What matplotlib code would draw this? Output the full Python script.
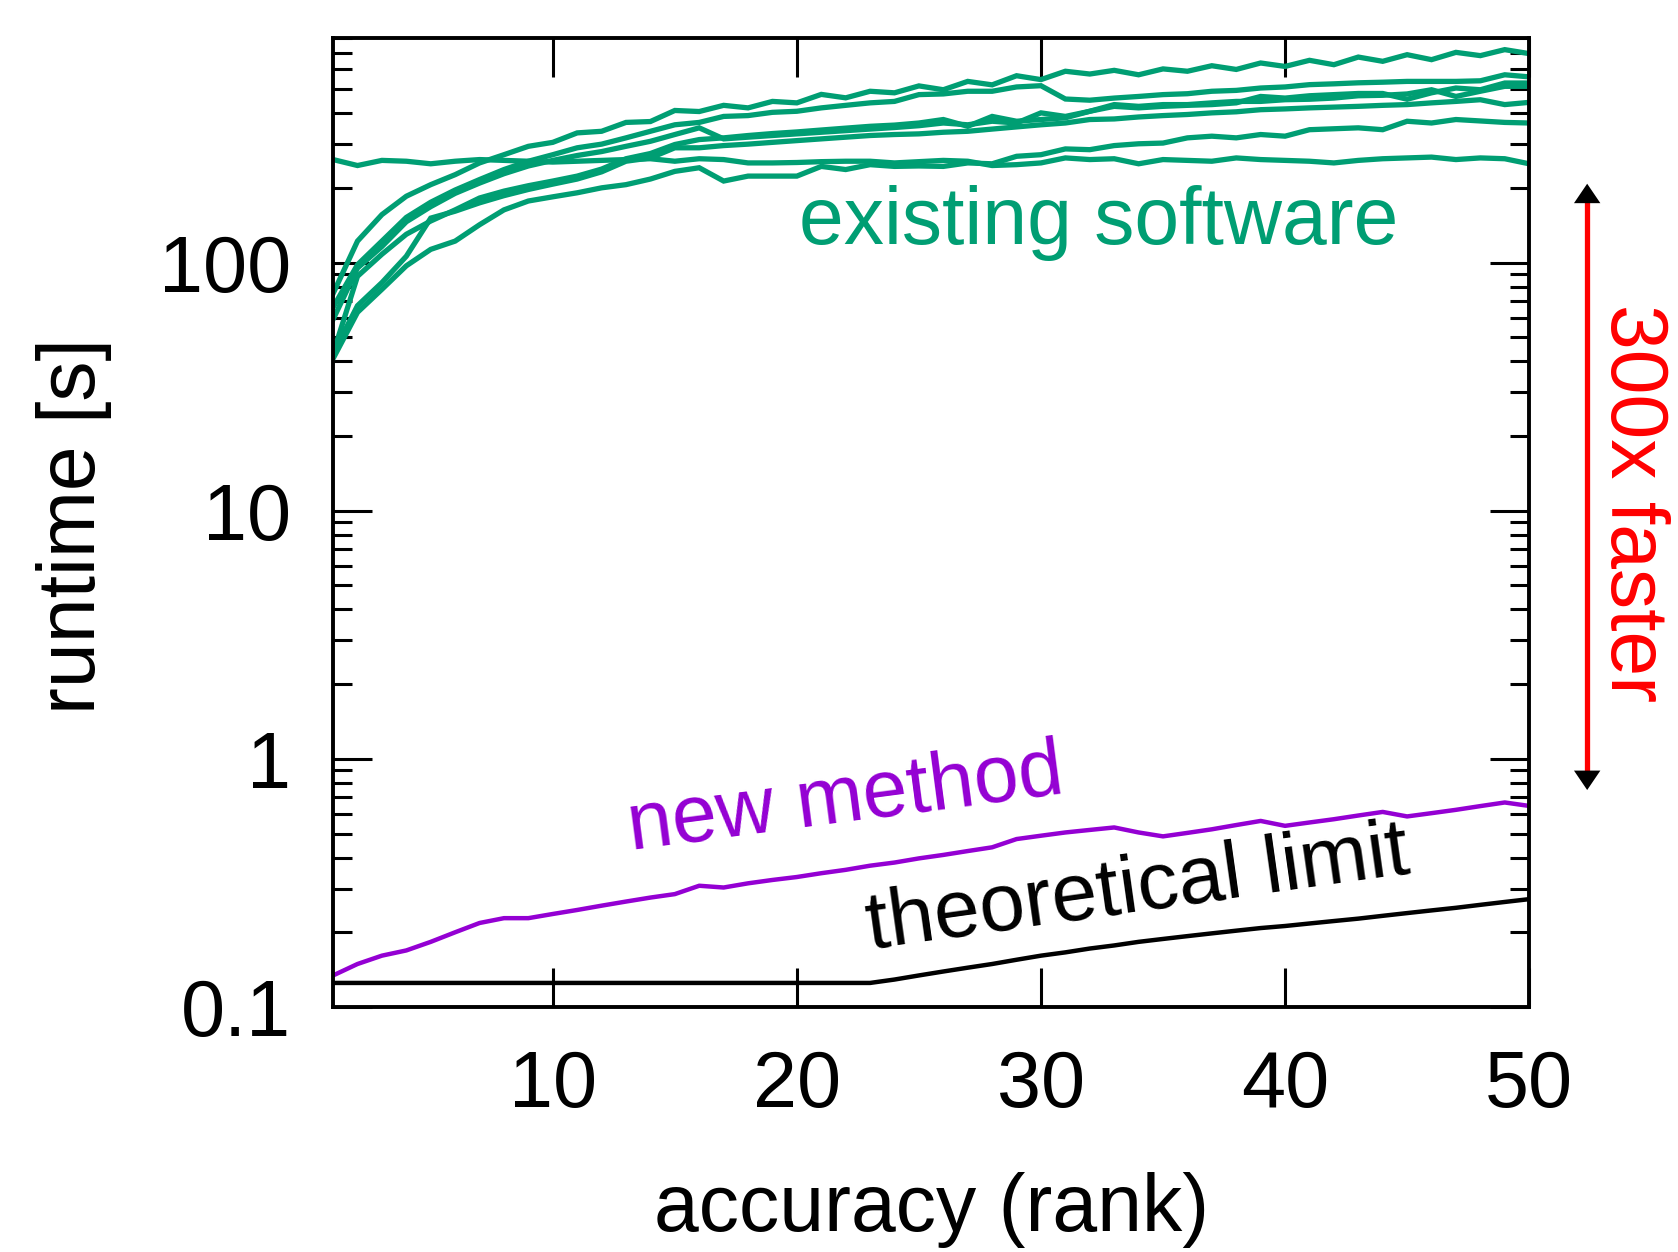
import matplotlib
matplotlib.use("Agg")
import matplotlib.pyplot as plt
import numpy as np

plt.rcParams['font.family'] = ['Liberation Sans', 'DejaVu Sans']

# ---------------- data ----------------
rank = list(range(1, 51))

existing_a = [75, 122, 156, 185, 206, 226, 252, 272, 294, 305, 333, 338, 367, 370, 410, 406, 430, 420, 446, 440,
              476, 461, 490, 483, 515, 497, 537, 520, 566, 546, 590, 575, 595, 571, 603, 590, 621, 600, 637, 617,
              653, 627, 673, 647, 688, 657, 703, 682, 721, 695]
existing_b = [66, 98, 122, 152, 175, 196, 216, 237, 256, 272, 290, 300, 318, 338, 359, 367, 388, 391, 403, 407,
              420, 430, 440, 446, 475, 478, 490, 490, 510, 516, 456, 451, 460, 467, 475, 479, 490, 494, 505, 510,
              521, 525, 530, 533, 537, 537, 537, 540, 571, 560]
existing_c = [59, 95, 116, 146, 168, 190, 209, 228, 245, 258, 270, 280, 294, 308, 328, 349, 315, 320, 325, 330,
              335, 340, 345, 350, 356, 365, 359, 371, 365, 401, 388, 407, 426, 420, 426, 430, 433, 440, 467, 460,
              470, 475, 480, 480, 455, 483, 505, 497, 529, 529]
existing_d = [43, 88, 108, 130, 147, 163, 182, 194, 204, 213, 223, 238, 262, 275, 299, 313, 318, 325, 331, 336,
              342, 348, 354, 358, 365, 377, 354, 388, 371, 377, 383, 407, 433, 426, 433, 433, 440, 446, 446, 453,
              455, 460, 470, 472, 478, 497, 467, 490, 513, 513]
existing_e = [43, 67, 83, 106, 151, 161, 174, 186, 197, 207, 217, 232, 256, 264, 290, 290, 296, 300, 305, 310,
              315, 320, 325, 328, 330, 335, 338, 345, 352, 359, 365, 377, 379, 386, 391, 395, 401, 405, 413, 416,
              420, 423, 426, 430, 433, 440, 446, 453, 433, 442]
existing_f = [41, 63, 78, 97, 113, 122, 142, 163, 177, 184, 191, 200, 206, 217, 233, 241, 213, 223, 223, 223,
              244, 237, 248, 244, 245, 244, 252, 250, 268, 272, 287, 285, 296, 301, 303, 318, 323, 318, 328, 323,
              343, 346, 349, 343, 371, 365, 377, 372, 367, 365]
existing_g = [260, 246, 258, 256, 250, 256, 260, 258, 256, 254, 256, 258, 260, 262, 256, 262, 260, 252, 252, 253,
              255, 256, 256, 252, 255, 258, 256, 246, 248, 252, 264, 260, 262, 250, 260, 258, 256, 264, 260, 258,
              256, 252, 258, 262, 264, 266, 260, 264, 262, 250]
existing_software = [existing_a, existing_b, existing_c, existing_d, existing_e, existing_f, existing_g]

new_method = [0.134, 0.149, 0.161, 0.169, 0.183, 0.200, 0.218, 0.228, 0.228, 0.237,
              0.246, 0.256, 0.266, 0.276, 0.285, 0.308, 0.303, 0.315, 0.325, 0.334,
              0.346, 0.357, 0.371, 0.382, 0.397, 0.410, 0.425, 0.440, 0.475, 0.490,
              0.505, 0.517, 0.529, 0.505, 0.487, 0.503, 0.520, 0.541, 0.562, 0.537,
              0.554, 0.571, 0.591, 0.611, 0.586, 0.604, 0.623, 0.645, 0.667, 0.646]

theoretical_limit = [0.125, 0.125, 0.125, 0.125, 0.125, 0.125, 0.125, 0.125, 0.125, 0.125,
                     0.125, 0.125, 0.125, 0.125, 0.125, 0.125, 0.125, 0.125, 0.125, 0.125,
                     0.125, 0.125, 0.125, 0.129, 0.134, 0.139, 0.144, 0.149, 0.155, 0.161,
                     0.166, 0.172, 0.177, 0.183, 0.188, 0.193, 0.198, 0.203, 0.208, 0.212,
                     0.217, 0.222, 0.227, 0.233, 0.239, 0.245, 0.251, 0.258, 0.265, 0.272]

x_ticks = [10, 20, 30, 40, 50]
y_ticks = [0.1, 1, 10, 100]
y_tick_labels = ['0.1', '1', '10', '100']

GREEN = '#009E73'
PURPLE = '#9400D3'
RED = '#FF0000'
FS = 58
TFS = 57

# ---------------- figure ----------------
fig = plt.figure(figsize=(16.78, 12.52), dpi=100)
ax = fig.add_axes([0.1985, 0.1957, 0.7128, 0.7736])

for series in existing_software:
    ax.plot(rank, series, color=GREEN, lw=3.8, solid_joinstyle='miter')
ax.plot(rank, new_method, color=PURPLE, lw=3.2)
ax.plot(rank, theoretical_limit, color='black', lw=3.2)

ax.set_yscale('log')
ax.set_xlim(1, 50)
ax.set_ylim(0.1, 800)

ax.set_xticks(x_ticks)
ax.set_xticklabels([str(t) for t in x_ticks])
ax.xaxis.set_minor_locator(matplotlib.ticker.NullLocator())
ax.set_yticks(y_ticks)
ax.set_yticklabels(y_tick_labels)
ax.yaxis.set_minor_locator(matplotlib.ticker.LogLocator(base=10, subs=np.arange(2, 10)))
ax.yaxis.set_minor_formatter(matplotlib.ticker.NullFormatter())

ax.tick_params(axis='both', which='both', direction='in', top=True, right=True, width=2.2, colors='black')
ax.tick_params(axis='both', which='major', length=28, labelsize=TFS)
ax.tick_params(axis='both', which='minor', length=14)
ax.tick_params(axis='x', which='major', pad=30)
ax.tick_params(axis='y', which='major', pad=30)

for sp in ax.spines.values():
    sp.set_linewidth(2.8)

# axis labels
fig.text(74 / 1678, 1 - 526 / 1252, 'runtime [s]', rotation=90, ha='center', va='center', fontsize=FS)
fig.text(932 / 1678, 1 - 1210 / 1252, 'accuracy (rank)', ha='center', va='center', fontsize=FS)

# in-plot labels
ax.text(20.1, 119, 'existing software', color=GREEN, fontsize=FS, ha='left', va='baseline')
ax.text(13.2, 0.43, 'new method', color=PURPLE, fontsize=FS, ha='left', va='baseline',
        rotation=7.5, rotation_mode='anchor')
ax.text(23.0, 0.172, 'theoretical limit', color='black', fontsize=59, ha='left', va='baseline',
        rotation=8, rotation_mode='anchor')

# speed-up arrow
ax_x = 1.0485
y_top, y_bot = 0.85, 0.224
head = 0.0196
ax.plot([ax_x, ax_x], [y_bot + head * 0.5, y_top - head * 0.5], color=RED, lw=3.8,
        transform=ax.transAxes, clip_on=False, solid_capstyle='butt')
for tip, base in [(y_top, y_top - head), (y_bot, y_bot + head)]:
    ax.annotate('', xy=(ax_x, tip), xytext=(ax_x, base), xycoords='axes fraction',
                textcoords='axes fraction',
                arrowprops=dict(arrowstyle='-|>,head_length=14,head_width=9.5', mutation_scale=1,
                                color='black', lw=0, shrinkA=0, shrinkB=0))
ax.text(1.086, 0.52, '300x faster', color=RED, fontsize=FS, rotation=270,
        ha='center', va='center', transform=ax.transAxes)

fig.savefig('out.png', dpi=100)
